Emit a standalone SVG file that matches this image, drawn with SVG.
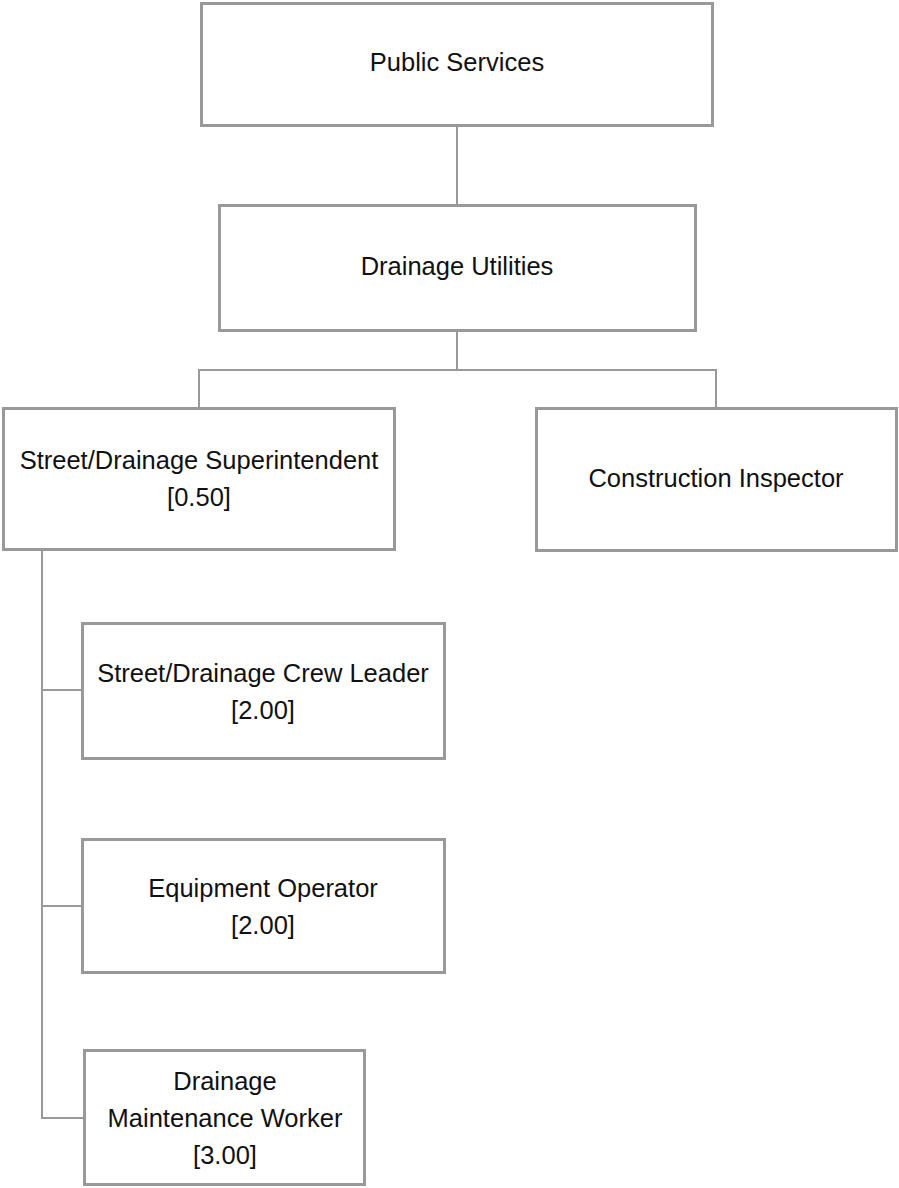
<svg xmlns="http://www.w3.org/2000/svg" width="899" height="1188" viewBox="0 0 899 1188">
<style>
.box{fill:#fff;stroke:#999;stroke-width:3}
.ln{fill:none;stroke:#999;stroke-width:2}
text{font-family:"Liberation Sans",Arial,sans-serif;font-size:25.5px;fill:#111;text-anchor:middle}
</style>
<rect width="899" height="1188" fill="#fff"/>
<g id="connectors">
<path class="ln" d="M457 125V205"/>
<path class="ln" d="M457 331V370M199 408V370H716V408"/>
<path class="ln" d="M42 550V1118H84M42 690H82M42 906H82"/>
</g>
<g id="n1"><rect class="box" x="201.5" y="3.5" width="511" height="122"/><text x="457" y="71">Public Services</text></g>
<g id="n2"><rect class="box" x="219.5" y="205.5" width="476" height="125"/><text x="457" y="275">Drainage Utilities</text></g>
<g id="n3"><rect class="box" x="3.5" y="408.5" width="391" height="141"/><text x="199" y="469">Street/Drainage Superintendent</text><text x="199" y="506">[0.50]</text></g>
<g id="n4"><rect class="box" x="536.5" y="408.5" width="360" height="142"/><text x="716" y="487">Construction Inspector</text></g>
<g id="n5"><rect class="box" x="82.5" y="623.5" width="362" height="135"/><text x="263" y="682">Street/Drainage Crew Leader</text><text x="263" y="719">[2.00]</text></g>
<g id="n6"><rect class="box" x="82.5" y="839.5" width="362" height="133"/><text x="263" y="897">Equipment Operator</text><text x="263" y="934">[2.00]</text></g>
<g id="n7"><rect class="box" x="84.5" y="1050.5" width="280" height="134"/><text x="225" y="1090">Drainage</text><text x="225" y="1127">Maintenance Worker</text><text x="225" y="1164">[3.00]</text></g>
</svg>
